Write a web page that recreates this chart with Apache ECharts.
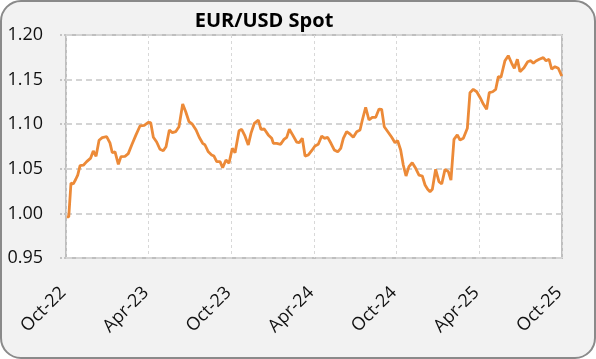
<!DOCTYPE html>
<html><head><meta charset="utf-8">
<script src="https://cdn.jsdelivr.net/npm/echarts@6/dist/echarts.min.js"></script>
<style>html,body{margin:0;padding:0;background:#fff;}#c{width:596px;height:359px;}</style>
</head><body><div id="c"></div>
<script>
// months since 1-Oct-2022
const months = [0.05,0.20,0.36,0.53,0.70,0.85,1.02,1.26,1.50,1.79,1.98,2.18,2.40,2.63,2.95,3.19,3.36,3.56,3.80,3.99,4.28,4.52,4.77,5.08,5.37,5.68,5.97,6.15,6.34,6.58,6.82,7.06,7.26,7.50,7.72,7.96,8.20,8.47,8.69,8.93,9.17,9.44,9.67,9.92,10.09,10.33,10.57,10.74,10.94,11.18,11.37,11.61,11.83,12.07,12.27,12.56,12.75,12.99,13.23,13.43,13.67,13.96,14.15,14.39,14.68,14.93,15.05,15.29,15.58,15.82,16.02,16.21,16.45,16.74,16.93,17.15,17.35,17.59,17.83,18.07,18.31,18.56,18.75,18.99,19.23,19.47,19.72,19.94,20.13,20.37,20.61,20.85,21.10,21.34,21.51,21.75,21.99,22.23,22.48,22.72,22.91,23.10,23.32,23.64,23.88,24.07,24.29,24.48,24.68,24.89,25.13,25.38,25.62,25.86,26.06,26.25,26.42,26.59,26.83,27.07,27.27,27.51,27.75,27.94,28.16,28.40,28.60,28.84,29.13,29.32,29.56,29.81,30.05,30.29,30.53,30.72,30.97,31.19,31.38,31.57,31.86,32.10,32.35,32.54,32.76,32.95,33.24,33.51,33.73,33.92,34.11,34.35,34.64,34.84,35.06,35.25,35.49,35.73,35.98];
const spot = [0.996,0.996,1.034,1.033,1.038,1.043,1.0535,1.054,1.058,1.062,1.070,1.064,1.082,1.085,1.086,1.079,1.068,1.069,1.055,1.0636,1.064,1.067,1.0767,1.088,1.098,1.0988,1.102,1.1017,1.0853,1.080,1.0719,1.0703,1.0748,1.0935,1.0905,1.0916,1.0972,1.1226,1.114,1.1028,1.100,1.0935,1.0853,1.0786,1.0767,1.069,1.0655,1.0643,1.058,1.058,1.0512,1.0599,1.0562,1.073,1.068,1.0927,1.0943,1.0868,1.0767,1.090,1.101,1.1047,1.0943,1.0946,1.088,1.0842,1.0786,1.0786,1.0775,1.083,1.0853,1.0943,1.088,1.080,1.0793,1.0842,1.0643,1.0655,1.0703,1.0756,1.0775,1.0868,1.0842,1.0853,1.0786,1.0711,1.069,1.073,1.0842,1.0916,1.089,1.0853,1.0916,1.0935,1.1047,1.119,1.1047,1.1077,1.1077,1.117,1.1167,1.0972,1.0924,1.0853,1.0793,1.0815,1.0711,1.0543,1.0419,1.0524,1.0568,1.0506,1.043,1.0419,1.0318,1.027,1.0243,1.027,1.0494,1.0355,1.033,1.0494,1.0468,1.0374,1.083,1.088,1.0823,1.0842,1.0954,1.1353,1.1391,1.1364,1.130,1.1226,1.1167,1.1353,1.1364,1.1391,1.1533,1.1526,1.1712,1.1768,1.1683,1.1627,1.1728,1.1589,1.1633,1.170,1.1712,1.1683,1.1709,1.1728,1.1746,1.1712,1.1728,1.1616,1.1645,1.1627,1.154];
const xTickLabels = ['Oct-22','Apr-23','Oct-23','Apr-24','Oct-24','Apr-25','Oct-25'];
const titleText = 'EUR/USD Spot';

const chart = echarts.init(document.getElementById('c'), null, {renderer:'canvas'});
const font = '"Open Sans", "Noto Sans", sans-serif';
chart.setOption({
  animation:false,
  backgroundColor:'transparent',
  graphic:[{type:'rect', z:-10, silent:true, shape:{x:1,y:1,width:594,height:357,r:20}, style:{fill:'#f2f2f2', stroke:'#8a8a8a', lineWidth:2}}],
  title:{text:titleText, left:259, top:6, textAlign:'center', textStyle:{fontFamily:font, fontWeight:'bold', fontSize:20, color:'#000'}},
  grid:{left:66, right:34, top:35, bottom:101, show:true, backgroundColor:'#fff', borderColor:'#bfbfbf', borderWidth:2, containLabel:false},
  xAxis:{type:'value', min:0, max:36, interval:6,
    axisLine:{show:false}, axisTick:{show:false},
    splitLine:{show:true, lineStyle:{color:'#d8d8d8', width:1, type:[3,3]}},
    axisLabel:{rotate:45, margin:29, fontFamily:font, fontSize:18, color:'#111', padding:[0,4,0,0],
      formatter:function(v){return xTickLabels[Math.round(v/6)]||'';}}
  },
  yAxis:{type:'value', min:0.95, max:1.20, interval:0.05,
    axisLine:{show:false},
    axisTick:{show:true, length:7, lineStyle:{color:'#c4c4c4', width:2, type:[2,2]}},
    splitLine:{show:true, lineStyle:{color:'#d4d4d4', width:2, type:[6,4]}},
    axisLabel:{margin:23, fontFamily:font, fontSize:18, color:'#111', formatter:function(v){return v.toFixed(2);}}
  },
  series:[{type:'line', data:months.map((m,i)=>[m,spot[i]]), showSymbol:false, symbol:'none',
    lineStyle:{color:'#ec8a38', width:2.8}, itemStyle:{color:'#ec8a38'}}]
});
</script></body></html>
